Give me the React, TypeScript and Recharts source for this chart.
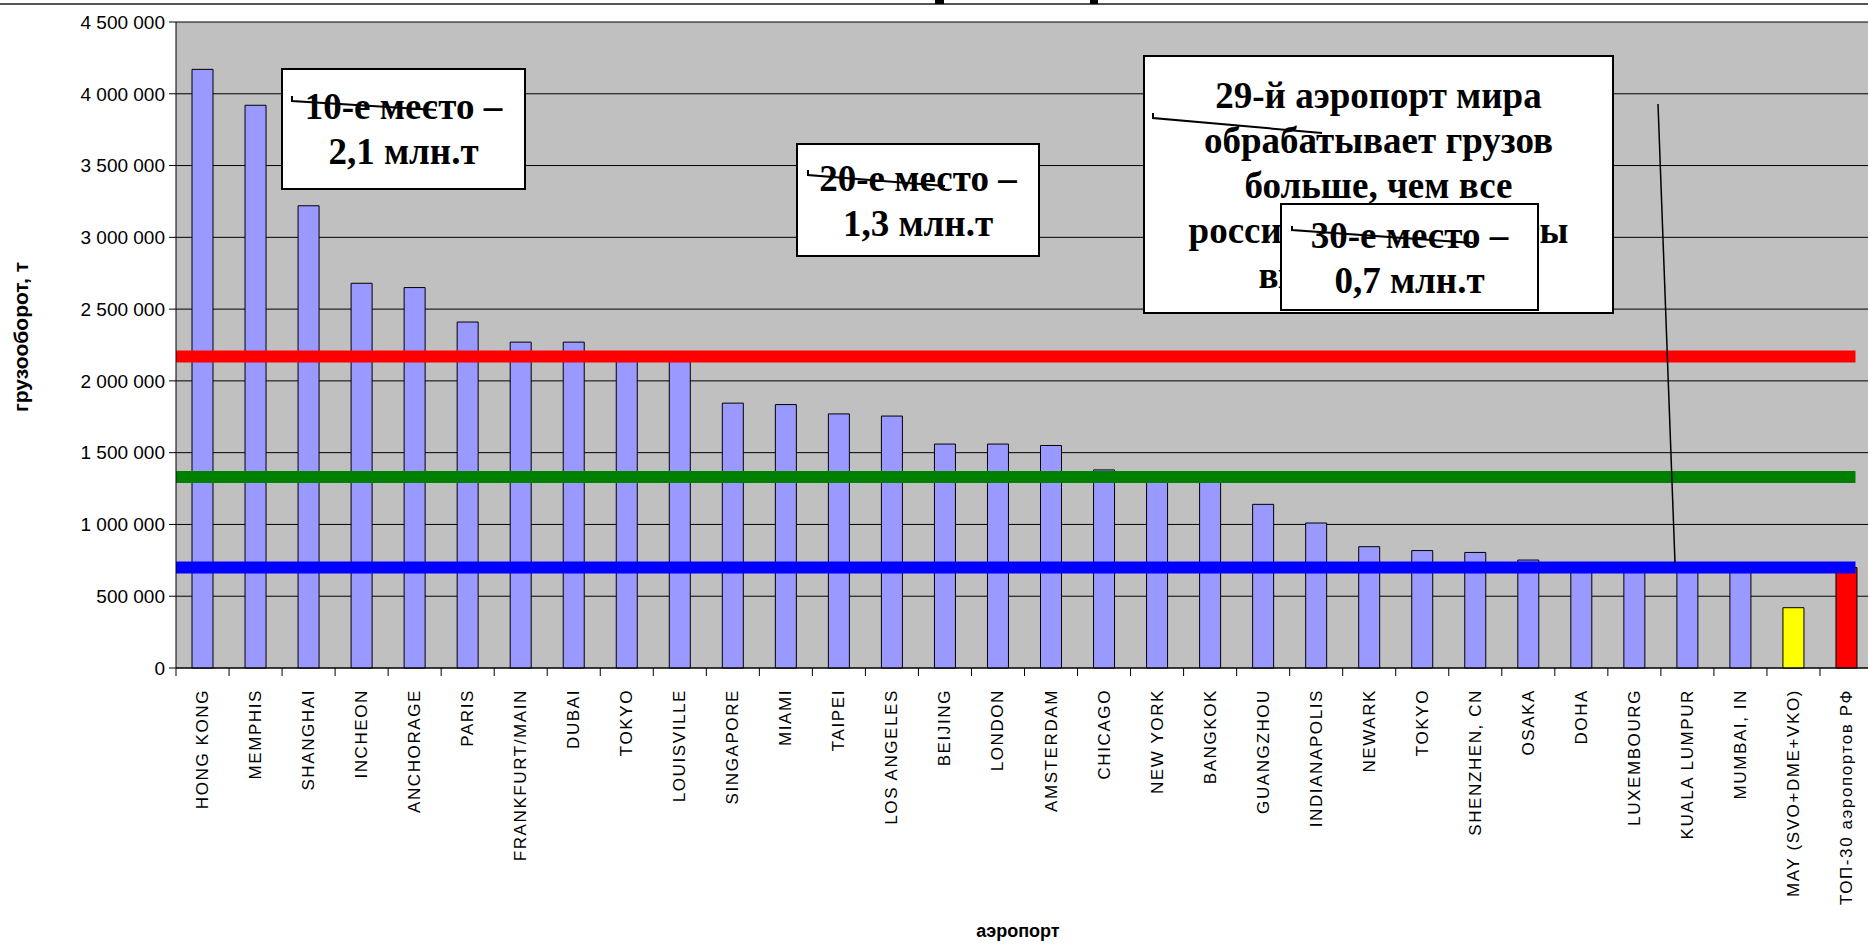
import React from 'react';
import { BarChart, Bar, Cell, XAxis, YAxis, CartesianGrid, ReferenceLine } from 'recharts';

// Грузооборот аэропортов, т
const airports = [
  'HONG KONG', 'MEMPHIS', 'SHANGHAI', 'INCHEON', 'ANCHORAGE', 'PARIS', 'FRANKFURT/MAIN', 'DUBAI',
  'TOKYO', 'LOUISVILLE', 'SINGAPORE', 'MIAMI', 'TAIPEI', 'LOS ANGELES', 'BEIJING', 'LONDON',
  'AMSTERDAM', 'CHICAGO', 'NEW YORK', 'BANGKOK', 'GUANGZHOU', 'INDIANAPOLIS', 'NEWARK', 'TOKYO',
  'SHENZHEN, CN', 'OSAKA', 'DOHA', 'LUXEMBOURG', 'KUALA LUMPUR', 'MUMBAI, IN',
  'MAY (SVO+DME+VKO)', 'ТОП-30 аэропортов РФ',
];

const cargo = [
  4170000, 3920000, 3220000, 2680000, 2650000, 2410000, 2270000, 2270000,
  2200000, 2180000, 1845000, 1835000, 1770000, 1755000, 1560000, 1560000,
  1550000, 1380000, 1350000, 1335000, 1140000, 1010000, 845000, 818000,
  805000, 752000, 705000, 700000, 700000, 695000,
  420000, 700000,
];

const specialFill: Record<string, string> = {
  'MAY (SVO+DME+VKO)': '#FFFF00',
  'ТОП-30 аэропортов РФ': '#FF0000',
};

const yTicks = [0, 500000, 1000000, 1500000, 2000000, 2500000, 3000000, 3500000, 4000000, 4500000];

// 10-е, 20-е и 30-е место
const thresholds = [
  { value: 2170000, color: '#FF0000' },
  { value: 1330000, color: '#008000' },
  { value: 700000, color: '#0000FF' },
];
const thresholdEnd = 31.67; // in category units

const rows = airports.map((name, i) => ({ name, slot: i + 0.5, cargo: cargo[i] }));
const bounds = Array.from({ length: airports.length + 1 }, (_, i) => i);

const callouts = [
  { lines: ['10-е место –', '2,1 млн.т'], x: 282, y: 69, w: 243, h: 120, base: 119, strike: '292,96 292,101 436,110' },
  { lines: ['20-е место –', '1,3 млн.т'], x: 797, y: 144, w: 242, h: 112, base: 191, strike: '808,170 808,175 945,186' },
  {
    lines: ['29-й аэропорт мира', 'обрабатывает грузов', 'больше, чем все', 'российские аэропорты', 'вместе взятые'],
    x: 1144, y: 56, w: 469, h: 257, base: 108, strike: '1153,113 1153,118 1322,133',
  },
  { lines: ['30-е место –', '0,7 млн.т'], x: 1281, y: 204, w: 257, h: 106, base: 248, strike: '1292,226 1292,230 1473,243' },
];

const fmt = (v: number) => String(v).replace(/\B(?=(\d{3})+(?!\d))/g, ' ');

const AirportTick = (props: any) => {
  const { x, y, payload } = props;
  return (
    <text
      x={x}
      y={y}
      transform={`rotate(-90 ${x} ${y})`}
      textAnchor="end"
      dominantBaseline="central"
      fontSize={17}
      letterSpacing={1.6}
      fill="#000"
    >
      {payload.value}
    </text>
  );
};

export default function App() {
  return (
    <div style={{ position: 'fixed', left: 0, top: 0, width: 1868, height: 945, overflow: 'hidden', background: '#fff', fontFamily: '"Liberation Sans", Arial, sans-serif' }}>
      <BarChart width={1873} height={945} data={rows} margin={{ top: 22, right: 0, left: 0, bottom: 0 }} barSize={21}>
        <CartesianGrid vertical={false} stroke="#000" fill="#C0C0C0" fillOpacity={1} />
        <XAxis
          xAxisId="bounds"
          type="number"
          dataKey="slot"
          domain={[0, airports.length]}
          ticks={bounds}
          tick={() => null}
          tickSize={8}
          height={1}
          stroke="#000"
          allowDataOverflow
        />
        <XAxis
          xAxisId="cat"
          dataKey="name"
          interval={0}
          height={276}
          tickLine={false}
          tickSize={0}
          tickMargin={20}
          axisLine={false}
          tick={<AirportTick />}
        />
        <YAxis
          width={176}
          domain={[0, 4500000]}
          ticks={yTicks}
          tickFormatter={fmt}
          tickSize={7}
          tickMargin={4}
          stroke="#000"
          tick={{ fill: '#000', fontSize: 19 }}
        />
        <Bar xAxisId="cat" dataKey="cargo" stroke="#000" strokeWidth={1} isAnimationActive={false}>
          {rows.map((r, i) => (
            <Cell key={i} fill={specialFill[r.name] ?? '#9999FF'} />
          ))}
        </Bar>
        {thresholds.map((t) => (
          <ReferenceLine
            key={t.value}
            xAxisId="bounds"
            segment={[{ x: 0, y: t.value }, { x: thresholdEnd, y: t.value }]}
            stroke={t.color}
            strokeWidth={12}
            ifOverflow="visible"
          />
        ))}
      </BarChart>
      <svg width={1868} height={945} style={{ position: 'absolute', left: 0, top: 0, pointerEvents: 'none' }}>
        <line x1={0} y1={4} x2={1868} y2={4} stroke="#555" strokeWidth={2} />
        <rect x={935} y={0} width={9} height={4} fill="#000" />
        <rect x={1090} y={0} width={8} height={4} fill="#000" />
        <text x={20} y={337} transform="rotate(-90 20 337)" textAnchor="middle" dominantBaseline="central" fontWeight="bold" fontSize={21} fill="#000">
          грузооборот, т
        </text>
        <text x={1018} y={931} textAnchor="middle" dominantBaseline="central" fontWeight="bold" fontSize={18} fill="#000">
          аэропорт
        </text>
        <line x1={1658} y1={104} x2={1675} y2={563} stroke="#000" strokeWidth={1.5} />
        {callouts.map((c, k) => (
          <g key={k}>
            <rect x={c.x} y={c.y} width={c.w} height={c.h} fill="#fff" stroke="#000" strokeWidth={2} />
            {c.lines.map((ln, j) => (
              <text
                key={j}
                x={c.x + c.w / 2}
                y={c.base + j * 45}
                textAnchor="middle"
                fontFamily='"Liberation Serif", "Times New Roman", serif'
                fontWeight="bold"
                fontSize={37}
                fill="#000"
              >
                {ln}
              </text>
            ))}
            <polyline points={c.strike} fill="none" stroke="#000" strokeWidth={2} />
          </g>
        ))}
      </svg>
    </div>
  );
}
